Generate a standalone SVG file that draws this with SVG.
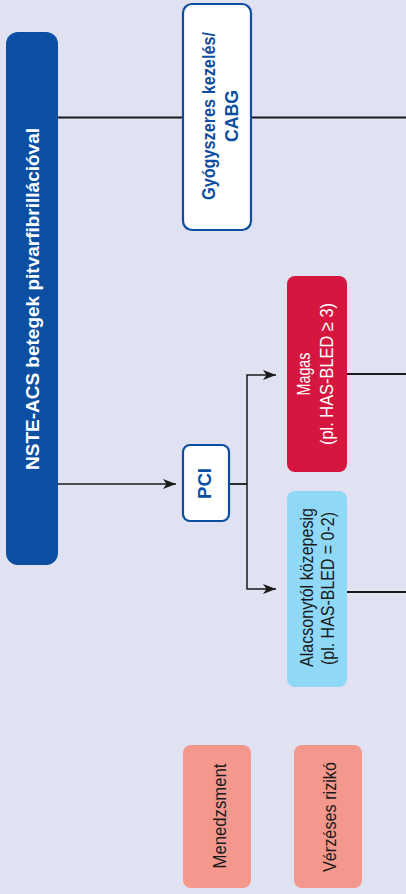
<svg xmlns="http://www.w3.org/2000/svg" width="406" height="894" viewBox="0 0 406 894">
<style>
.t{font-family:"Liberation Sans",Arial,sans-serif;}
.b{font-weight:bold;}
.w{fill:#ffffff;}
.bl{fill:#0b4ea2;}
.dk{fill:#1a1a1a;}
.wbox{fill:#ffffff;stroke:#0b4ea2;stroke-width:2.2;}
.ln{fill:none;stroke:#1a1a1a;stroke-width:1.8;}
.ar{fill:none;stroke:#1a1a1a;stroke-width:1.5;}
</style>
<defs>
<marker id="arr" markerUnits="userSpaceOnUse" markerWidth="14" markerHeight="12" viewBox="0 0 14 12" refX="13" refY="6" orient="auto">
<path d="M0,1 L13,6 L0,11 L3.5,6 Z" fill="#1a1a1a"/>
</marker>
</defs>
<rect x="0" y="0" width="406" height="894" fill="#e0e2f1"/>

<g id="connectors">
<path class="ln" d="M58,117.5 H182"/>
<path class="ln" d="M251,117.5 H406"/>
<path class="ar" d="M58,484 H176" marker-end="url(#arr)"/>
<path class="ln" d="M229,484 H247"/>
<path class="ar" d="M247,484 V375 H276" marker-end="url(#arr)"/>
<path class="ar" d="M247,484 V589 H276" marker-end="url(#arr)"/>
<path class="ln" d="M347,374 H406"/>
<path class="ln" d="M347,592 H406"/>
</g>

<g id="main">
<rect x="6" y="32" width="52" height="533" rx="12" fill="#0b4ea2"/>
<text class="t b w" font-size="19" text-anchor="middle" transform="translate(39,299) rotate(-90)" textLength="342" lengthAdjust="spacingAndGlyphs">NSTE-ACS betegek pitvarfibrillációval</text>
</g>

<g id="gyogyszeres">
<rect class="wbox" x="183" y="4" width="68" height="226" rx="9"/>
<text class="t b bl" font-size="17.5" text-anchor="middle" transform="translate(215,116) rotate(-90)" textLength="168" lengthAdjust="spacingAndGlyphs">Gyógyszeres kezelés/</text>
<text class="t b bl" font-size="18" text-anchor="middle" transform="translate(238,116) rotate(-90)" textLength="52" lengthAdjust="spacingAndGlyphs">CABG</text>
</g>

<g id="pci">
<rect class="wbox" x="183" y="445" width="46" height="76" rx="7"/>
<text class="t b bl" font-size="19" text-anchor="middle" transform="translate(210.5,483.5) rotate(-90)" textLength="31" lengthAdjust="spacingAndGlyphs">PCI</text>
</g>

<g id="magas">
<rect x="287" y="276" width="60" height="196" rx="8" fill="#d7163f"/>
<text class="t w" font-size="19" text-anchor="middle" transform="translate(309.5,374) rotate(-90)" textLength="43" lengthAdjust="spacingAndGlyphs">Magas</text>
<text class="t w" font-size="19" text-anchor="middle" transform="translate(333,374) rotate(-90)" textLength="142" lengthAdjust="spacingAndGlyphs">(pl. HAS-BLED ≥ 3)</text>
</g>

<g id="alacsony">
<rect x="287" y="491" width="60" height="196" rx="8" fill="#8fd8f6"/>
<text class="t dk" font-size="19" text-anchor="middle" transform="translate(313,587.5) rotate(-90)" textLength="159" lengthAdjust="spacingAndGlyphs">Alacsonytól közepesig</text>
<text class="t dk" font-size="19" text-anchor="middle" transform="translate(334,588.5) rotate(-90)" textLength="153" lengthAdjust="spacingAndGlyphs">(pl. HAS-BLED = 0-2)</text>
</g>

<g id="menedzsment">
<rect x="183" y="745" width="68" height="143" rx="8" fill="#f4978d"/>
<text class="t dk" font-size="19" text-anchor="middle" transform="translate(225.5,816) rotate(-90)" textLength="105" lengthAdjust="spacingAndGlyphs">Menedzsment</text>
</g>

<g id="verzeses">
<rect x="294" y="745" width="68" height="143" rx="8" fill="#f4978d"/>
<text class="t dk" font-size="19" text-anchor="middle" transform="translate(336,817) rotate(-90)" textLength="110" lengthAdjust="spacingAndGlyphs">Vérzéses rizikó</text>
</g>
</svg>
